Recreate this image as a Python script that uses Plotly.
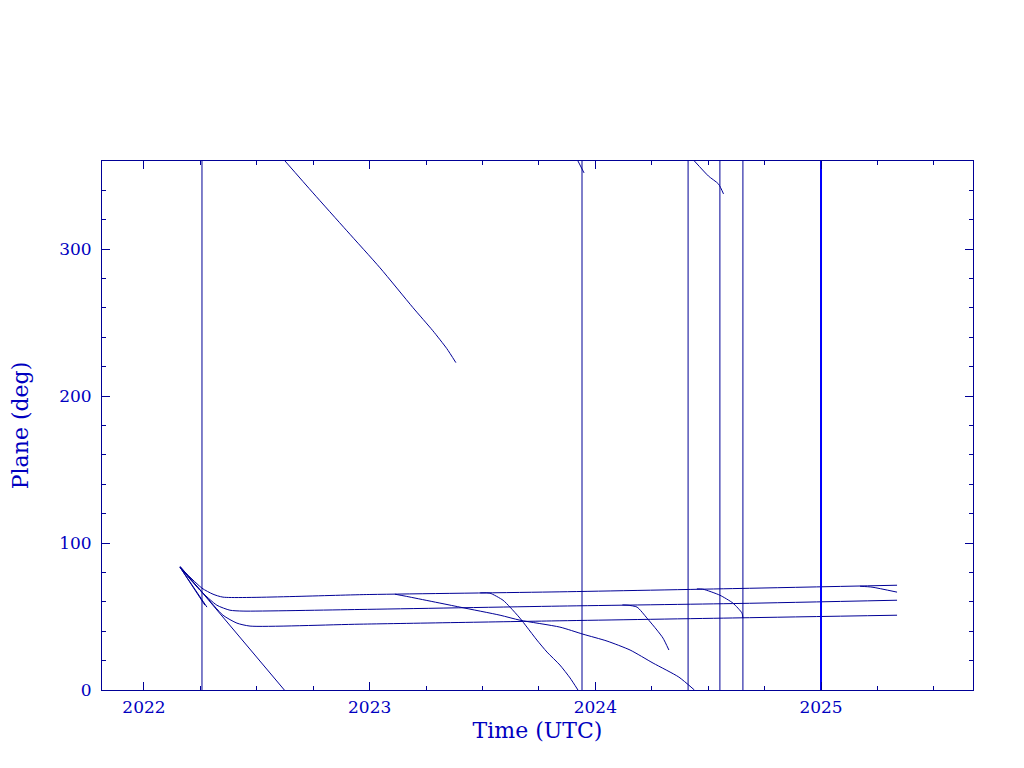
import plotly.graph_objects as go

# ---- data (time in fractional years UTC, plane angle in deg) ----
top_t = [2022.160, 2022.257, 2022.306, 2022.350, 2023.001, 2023.843, 2024.641, 2025.337]
top_d = [83.5, 69.3, 65.2, 63.2, 65.0, 66.8, 69.1, 71.3]

mid_t = [2022.160, 2022.248, 2022.323, 2022.381, 2022.439, 2022.957, 2023.843, 2024.641, 2025.337]
mid_d = [83.5, 67.9, 57.7, 54.3, 53.7, 54.8, 57.1, 58.9, 61.1]

low_t = [2022.160, 2022.270, 2022.350, 2022.412, 2022.470, 2022.957, 2023.843, 2024.641, 2025.337]
low_d = [83.5, 64.5, 50.9, 45.5, 43.5, 44.8, 47.1, 49.1, 50.9]

drop_a_t = [2022.160, 2022.622]
drop_a_d = [84.2, 0.0]
drop_a_wrap_t = [2022.625, 2022.749, 2022.899, 2023.046, 2023.192, 2023.280, 2023.342, 2023.382]
drop_a_wrap_d = [360.0, 338.3, 312.5, 287.3, 260.2, 244.5, 232.3, 222.8]

short1_t = [2022.160, 2022.270]
short1_d = [83.5, 57.7]
short2_t = [2022.160, 2022.279]
short2_d = [83.5, 56.4]

gentle_t = [2023.112, 2023.157, 2023.400, 2023.578, 2023.666, 2023.843, 2023.945,
            2024.052, 2024.154, 2024.256, 2024.370, 2024.439]
gentle_d = [65.2, 63.9, 56.4, 50.9, 47.5, 42.8, 38.0, 33.3, 27.2, 18.3, 8.8, 0.0]
gentle_wrap_t = [2024.439, 2024.501, 2024.546, 2024.568]
gentle_wrap_d = [360.0, 349.8, 344.3, 337.6]

steep_t = [2023.490, 2023.533, 2023.591, 2023.622, 2023.666, 2023.697, 2023.741,
           2023.786, 2023.843, 2023.888, 2023.923]
steep_d = [66.1, 65.9, 61.1, 56.4, 48.9, 42.8, 34.0, 25.8, 17.0, 8.2, 0.0]
steep_wrap_t = [2023.923, 2023.950]
steep_wrap_d = [360.0, 351.9]

mid_branch_t = [2024.120, 2024.145, 2024.185, 2024.229, 2024.273, 2024.300, 2024.326]
mid_branch_d = [57.9, 57.7, 56.4, 48.9, 40.8, 35.3, 27.2]

top_branch_t = [2024.450, 2024.477, 2024.552, 2024.610, 2024.650, 2024.654]
top_branch_d = [68.8, 68.6, 64.5, 59.1, 52.3, 48.9]

end_branch_t = [2025.173, 2025.226, 2025.337]
end_branch_d = [70.6, 70.0, 66.6]

wrap_times = [2022.257, 2023.941, 2024.411, 2024.552, 2024.654]
bold_wrap_times = [2025.000]

x_range = [2021.814, 2025.6735]
y_range = [0, 360]

LINE = "#000096"
TEXT = "#0000C0"
FONT = "DejaVu Serif"

fig = go.Figure()

def add(t, d, color=LINE, width=1):
    fig.add_trace(go.Scatter(x=t, y=d, mode="lines",
                             line=dict(color=color, width=width, shape="spline", smoothing=0.6),
                             showlegend=False, hoverinfo="skip"))

for t, d in [(top_t, top_d), (mid_t, mid_d), (low_t, low_d),
             (drop_a_t, drop_a_d), (drop_a_wrap_t, drop_a_wrap_d),
             (short1_t, short1_d), (short2_t, short2_d),
             (gentle_t, gentle_d), (gentle_wrap_t, gentle_wrap_d),
             (steep_t, steep_d), (steep_wrap_t, steep_wrap_d),
             (mid_branch_t, mid_branch_d), (top_branch_t, top_branch_d),
             (end_branch_t, end_branch_d)]:
    add(t, d)

for w in wrap_times:
    add([w, w], y_range)
for w in bold_wrap_times:
    add([w, w], y_range, color="#0000FF", width=2)

axis_common = dict(
    showgrid=False, zeroline=False, showline=True, linecolor=LINE, linewidth=1,
    mirror="allticks", ticks="inside", ticklen=8, tickcolor=LINE, tickwidth=1,
    tickfont=dict(family=FONT, size=17, color=TEXT), automargin=False,
)

fig.update_layout(
    width=1024, height=768,
    margin=dict(l=94, r=59, t=153, b=86),
    paper_bgcolor="white", plot_bgcolor="white",
    font=dict(family=FONT, color=TEXT),
    xaxis=dict(
        range=x_range, dtick=1, tick0=2022, tickformat="d",
        minor=dict(ticks="inside", ticklen=4, dtick=0.25, tickcolor=LINE, showgrid=False),
        title=dict(text="Time (UTC)", font=dict(family=FONT, size=22, color=TEXT), standoff=6),
        ticklabelstandoff=2,
        **axis_common,
    ),
    yaxis=dict(
        range=y_range, dtick=100, tick0=0,
        minor=dict(ticks="inside", ticklen=4, dtick=20, tickcolor=LINE, showgrid=False),
        title=dict(text="Plane (deg)", font=dict(family=FONT, size=22, color=TEXT), standoff=43),
        ticklabelstandoff=6,
        **axis_common,
    ),
)

fig.write_html("out.html")
